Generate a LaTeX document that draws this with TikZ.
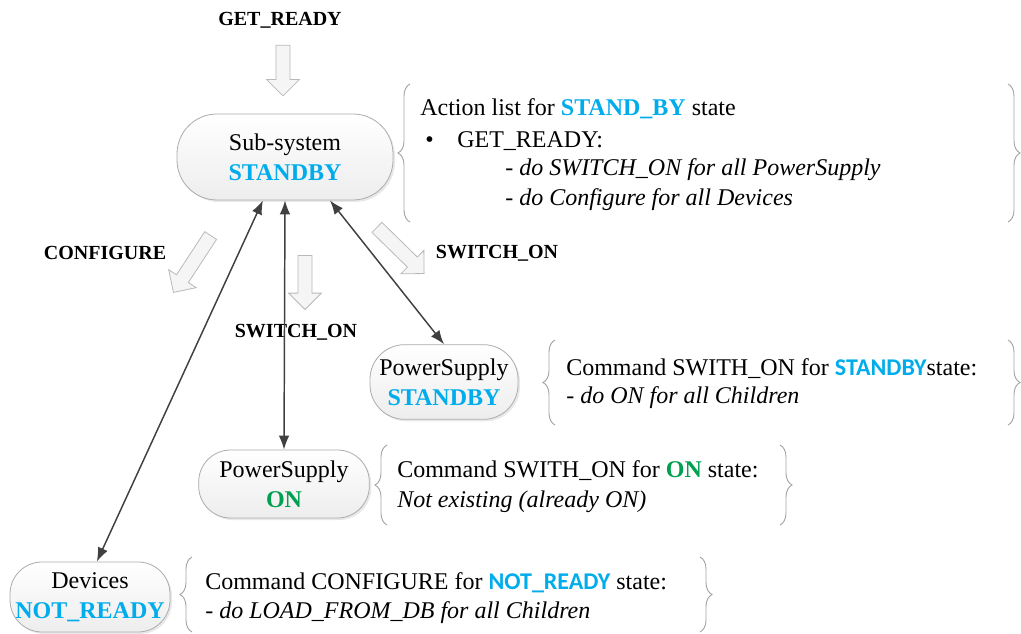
\documentclass[tikz,border=0pt]{standalone}
\usepackage{fontspec}
\setmainfont{Liberation Serif}
\newfontfamily\carlito{Carlito}
\usetikzlibrary{shapes.arrows,shadows,decorations.pathreplacing,arrows.meta}
\definecolor{stblue}{RGB}{0,172,236}
\definecolor{ongreen}{RGB}{0,160,80}
\definecolor{brgray}{RGB}{165,165,165}
\definecolor{linkgray}{RGB}{64,64,64}
\begin{document}
\begin{tikzpicture}[x=0.75pt,y=-0.75pt,
  state/.style={draw=gray!65, line width=0.6pt, top color=white, bottom color=gray!14, align=center, inner sep=0pt,
    font=\fontsize{18}{22.5}\selectfont, drop shadow={opacity=0.18,shadow xshift=1.5pt,shadow yshift=-1.5pt}},
  txt/.style={anchor=base west, inner sep=0pt, font=\fontsize{18}{22}\selectfont},
  lbl/.style={inner sep=0pt, font=\bfseries\fontsize{15}{18}\selectfont},
  hollow/.style={single arrow, draw=gray!55, fill=gray!8, line width=0.6pt, inner sep=5pt,
    single arrow head extend=7pt, single arrow tip angle=90, minimum width=24pt},
  link/.style={draw=linkgray, line width=1.1pt, {Latex[length=10.5pt,width=8pt]}-{Latex[length=10.5pt,width=8pt]}},
  bracedraw/.style={draw=brgray, line width=0.7pt, decorate, decoration={brace, amplitude=9pt, aspect=0.5}},
]
\useasboundingbox (0,0) rectangle (1021,634);

% state nodes
\node[state, minimum width=162pt, minimum height=64.5pt, rounded corners=30pt] (sub) at (285,157)
  {Sub-system\\\textcolor{stblue}{\bfseries STANDBY}};
\node[state, minimum width=111pt, minimum height=56pt, rounded corners=26pt] (pss) at (444,382)
  {PowerSupply\\\textcolor{stblue}{\bfseries STANDBY}};
\node[state, minimum width=128pt, minimum height=51pt, rounded corners=24pt] (pson) at (284,484)
  {PowerSupply\\\textcolor{ongreen}{\bfseries ON}};
\node[state, minimum width=120pt, minimum height=52.5pt, rounded corners=24pt] (dev) at (90,597)
  {Devices\\\textcolor{stblue}{\bfseries NOT\_READY}};

% event labels
\node[lbl] (lget) at (280,20) {GET\_READY};
\node[lbl] (lconf) at (105,253) {CONFIGURE};
\node[lbl] (lsw1) at (296,332) {SWITCH\_ON};
\node[lbl] (lsw2) at (497,253) {SWITCH\_ON};

% hollow event arrows
\node[hollow, minimum height=38pt, rotate=-90] (aget) at (283,67) {};
\node[hollow, minimum height=51pt, rotate=236.8] (aconf) at (194,261) {};
\node[hollow, minimum height=40.5pt, rotate=-90] (asw1) at (305,279) {};
\node[hollow, minimum height=49.5pt, rotate=-44.4] (asw2) at (398,248) {};

% connectors
\draw[link] (sub.243) -- (dev.79);
\draw[link] (sub.south) -- (pson.north);
\draw[link] (sub.316) -- (pss.north);

% box 1
\coordinate (b1l1) at (410,222); \coordinate (b1l2) at (410,84);
\coordinate (b1r1) at (1008,84); \coordinate (b1r2) at (1008,222);
\draw[bracedraw] (b1l1) -- (b1l2);
\draw[bracedraw] (b1r1) -- (b1r2);
\node[txt] (t1a) at (420,116) {Action list for \textcolor{stblue}{\bfseries STAND\_BY} state};
\node[txt] (t1b) at (425,148) {\textbullet};
\node[txt] (t1c) at (457,148) {GET\_READY:};
\node[txt] (t1d) at (505,176) {\itshape - do SWITCH\_ON for all PowerSupply};
\node[txt] (t1e) at (505,206) {\itshape - do Configure for all Devices};

% box 2
\coordinate (b2l1) at (555,425); \coordinate (b2l2) at (555,340);
\coordinate (b2r1) at (1008,340); \coordinate (b2r2) at (1008,425);
\draw[bracedraw] (b2l1) -- (b2l2);
\draw[bracedraw] (b2r1) -- (b2r2);
\node[txt] (t2a) at (566,376) {Command SWITH\_ON for \textcolor{stblue}{\carlito\bfseries STANDBY}state:};
\node[txt] (t2b) at (566,404) {\itshape - do ON for all Children};

% box 3
\coordinate (b3l1) at (387,525); \coordinate (b3l2) at (387,445);
\coordinate (b3r1) at (780,445); \coordinate (b3r2) at (780,525);
\draw[bracedraw] (b3l1) -- (b3l2);
\draw[bracedraw] (b3r1) -- (b3r2);
\node[txt] (t3a) at (397,478) {Command SWITH\_ON for \textcolor{ongreen}{\bfseries ON} state:};
\node[txt] (t3b) at (397,508) {\itshape Not existing (already ON)};

% box 4
\coordinate (b4l1) at (192,632); \coordinate (b4l2) at (192,557);
\coordinate (b4r1) at (700,557); \coordinate (b4r2) at (700,632);
\draw[bracedraw] (b4l1) -- (b4l2);
\draw[bracedraw] (b4r1) -- (b4r2);
\node[txt] (t4a) at (205,589) {Command CONFIGURE for \textcolor{stblue}{\carlito\bfseries NOT\_READY} state:};
\node[txt] (t4b) at (205,618) {\itshape - do LOAD\_FROM\_DB for all Children};
\end{tikzpicture}
\end{document}
